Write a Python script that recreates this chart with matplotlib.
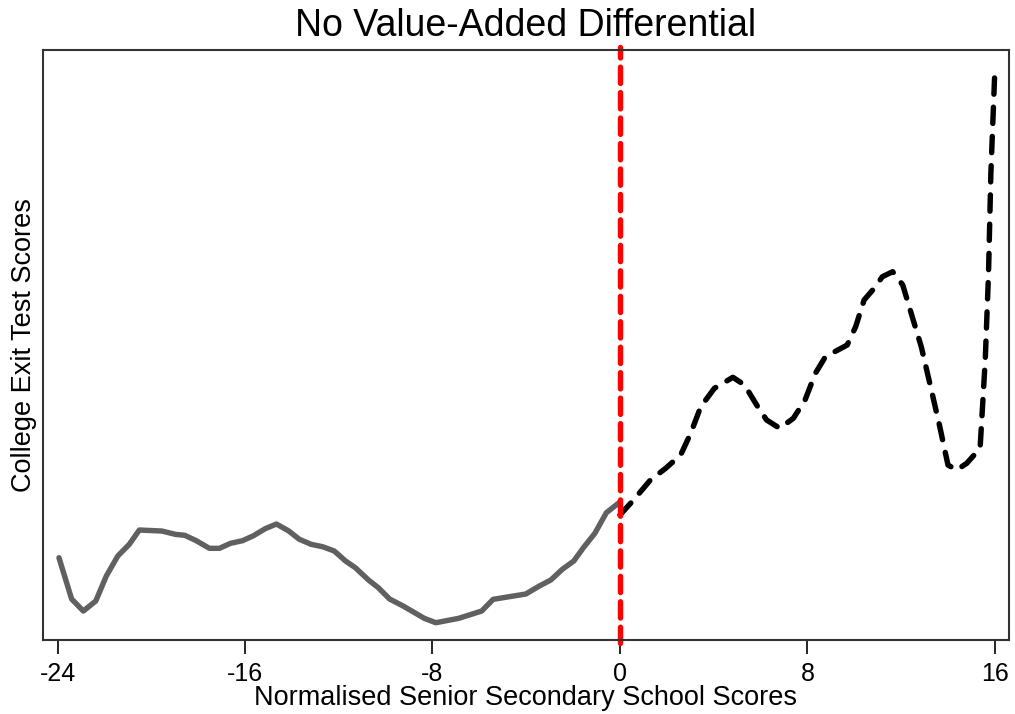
import numpy as np
import matplotlib
matplotlib.use('Agg')
import matplotlib.pyplot as plt

plt.rcParams['font.family'] = ['Liberation Sans', 'DejaVu Sans']

# datos (izquierda del corte)
x_izq = [-23.94, -23.4, -22.9, -22.37, -21.92, -21.43, -20.94, -20.51, -19.55, -18.98,
         -18.57, -18.08, -17.52, -17.09, -16.62, -16.11, -15.64, -15.14, -14.66, -14.15,
         -13.68, -13.18, -12.69, -12.19, -11.71, -11.29, -10.73, -10.31, -9.83, -9.25,
         -8.35, -7.86, -6.88, -5.9, -5.41, -4.02, -3.44, -2.95, -2.46, -1.97,
         -1.56, -1.07, -0.58, 0.0]
y_izq = [8.23, 4.1, 2.9, 3.9, 6.4, 8.4, 9.57, 11.0, 10.9, 10.57,
         10.47, 9.93, 9.17, 9.17, 9.67, 9.93, 10.43, 11.13, 11.6, 10.93,
         10.07, 9.57, 9.33, 8.9, 7.9, 7.23, 6.0, 5.23, 4.1, 3.4,
         2.17, 1.73, 2.17, 2.9, 4.07, 4.6, 5.4, 6.0, 7.07, 7.9,
         9.23, 10.67, 12.73, 13.8]

# datos (derecha del corte)
x_der = [0.0, 0.58, 1.3, 1.95, 2.59, 3.02, 3.45, 4.03, 4.82, 5.32,
         5.88, 6.26, 6.82, 7.4, 7.9, 8.34, 8.77, 9.7, 10.06, 10.42,
         10.85, 11.2, 11.64, 12.07, 12.43, 12.86, 13.29, 13.65, 14.0, 14.37,
         14.8, 15.37, 15.59, 15.73, 15.83, 16.0]
y_der = [12.5, 14.0, 16.0, 17.17, 18.5, 20.67, 23.33, 25.17, 26.27, 25.5,
         23.33, 22.0, 21.17, 22.17, 24.0, 26.67, 28.33, 29.5, 31.33, 34.0,
         35.17, 36.33, 36.83, 35.5, 32.67, 29.33, 25.0, 21.33, 17.5, 17.0,
         17.67, 19.17, 28.0, 36.67, 46.67, 57.0]

ticks_x = [-24, -16, -8, 0, 8, 16]
corte = 0

fig = plt.figure(figsize=(10.15, 7.14), dpi=100)
ax = fig.add_axes([0.0424, 0.1036, 0.9516, 0.8264])

ax.plot(x_izq, y_izq, color='#606060', lw=3.9, solid_capstyle='round', solid_joinstyle='round')
ax.plot(x_der, y_der, color='black', lw=3.9, dashes=(3.0, 2.4),
        dash_capstyle='round', dash_joinstyle='round')
ax.axvline(corte, color='red', lw=3.9, dashes=(3.0, 1.7), dash_capstyle='round',
           ymin=-0.005, ymax=1.005, clip_on=False)

ax.set_xlim(-24.62, 16.6)
ax.set_ylim(0, 59)
ax.set_xticks(ticks_x)
ax.set_xticklabels([str(t) for t in ticks_x])
ax.set_yticks([])
ax.tick_params(axis='x', direction='out', length=10, width=1.2, labelsize=18, pad=6)

for s in ax.spines.values():
    s.set_color('#333333')
    s.set_linewidth(1.5)

ax.set_title('No Value-Added Differential', fontsize=27, pad=10)
ax.set_xlabel('Normalised Senior Secondary School Scores', fontsize=19.5, labelpad=-1)
ax.set_ylabel('College Exit Test Scores', fontsize=19.5, labelpad=4)

fig.savefig('out.png', dpi=100)
